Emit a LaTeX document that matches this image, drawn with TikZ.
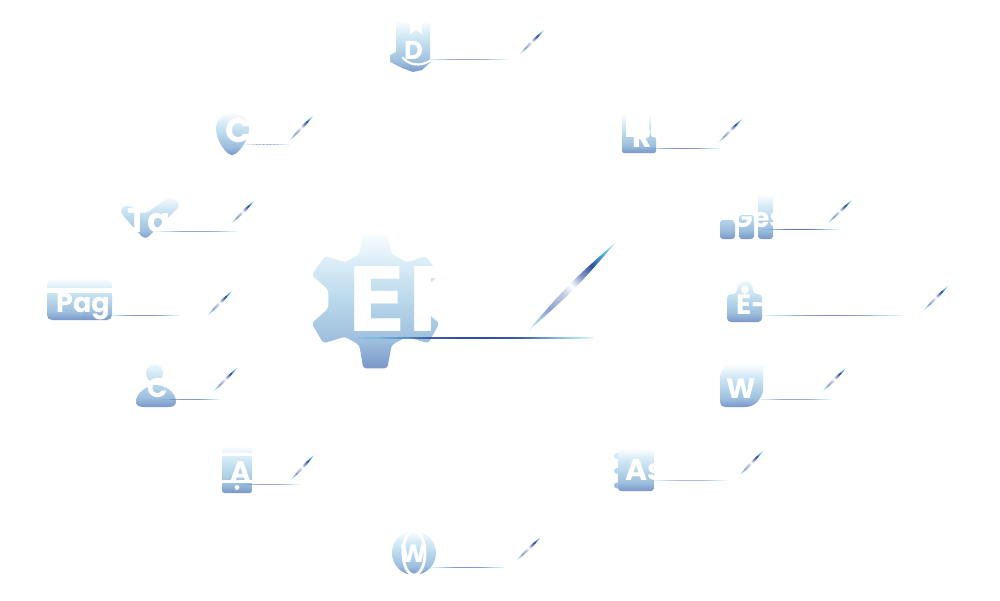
\documentclass[tikz,border=0pt]{standalone}
\usepackage{fontspec}
\usetikzlibrary{calc}
\newfontfamily\lblfont{Poppins}
\newfontfamily\erpfont{DejaVu Sans}
\definecolor{iconT}{HTML}{FAFDFF}
\definecolor{iconU}{HTML}{D4E9F5}
\definecolor{iconM}{HTML}{BAD8EB}
\definecolor{iconL}{HTML}{9DBEDD}
\definecolor{iconB}{HTML}{7A97C9}
\definecolor{ncyan}{HTML}{4DB8E0}
\definecolor{nlight}{HTML}{A9DDF0}
\definecolor{navy}{HTML}{2F4F9F}
\definecolor{peri}{HTML}{8E9FCC}
\pgfdeclareverticalshading{iconShade}{100bp}{color(0bp)=(iconB);color(25bp)=(iconB);color(35bp)=(iconL);color(50bp)=(iconM);color(62bp)=(iconU);color(75bp)=(iconT);color(100bp)=(iconT)}
\pgfdeclarehorizontalshading{leaderS}{100bp}{color(0bp)=(white);color(14.6bp)=(white);color(21.7bp)=(nlight);color(32.3bp)=(peri);color(44.3bp)=(peri!50);color(50bp)=(white);color(57bp)=(peri);color(65.6bp)=(navy);color(74.8bp)=(ncyan);color(85.4bp)=(white);color(100bp)=(white)}
\tikzset{
  iconfill/.style={shading=iconShade,draw=none},
  lbl/.style={text=white,inner sep=0pt,anchor=base west,font=\lblfont\bfseries\fontsize{#1}{#1}\selectfont},
  cutout/.style={fill=white,draw=none},
  cutline/.style={draw=white,line cap=round,line join=round},
  slen/.style={shading=leaderS,shading angle=45},
}
% name, x1, x2, y, half thickness, peak opacity
\newcommand{\hleader}[6]{%
  \coordinate (#1L) at (#2,#4);
  \coordinate (#1R) at (#3,#4);
  \foreach \i in {0,...,59}{%
    \pgfmathsetmacro{\ta}{\i/60}%
    \pgfmathsetmacro{\tb}{(\i+1)/60}%
    \pgfmathsetmacro{\tm}{(\i+.5)/60}%
    \pgfmathsetmacro{\op}{#6*sqrt(sin(180*\tm))}%
    \pgfmathsetmacro{\mixp}{min(100,max(0,(.42-abs(\tm-.5))/.22*100))}%
    \colorlet{segc}{navy!\mixp!ncyan}%
    \fill[segc,opacity=\op] ($(#1L)!\ta!(#1R)+(0,-#5)$) rectangle ($(#1L)!\tb!(#1R)+(0,#5)$);
  }%
}
% name, start x, y, end x, y, control offset
\newcommand{\slashlens}[6]{%
  \coordinate (#1A) at (#2,#3);
  \coordinate (#1B) at (#4,#5);
  \shade[slen] (#1A) .. controls ($(#1A)!.5!(#1B)+(#6,#6)$) .. (#1B) .. controls ($(#1A)!.5!(#1B)+(-#6,-#6)$) .. (#1A) -- cycle;
}
\begin{document}
\begin{tikzpicture}[x=1pt,y=-1pt]
\useasboundingbox (0,0) rectangle (1000,600);
% central gear
\shade[iconfill,rounded corners=3pt] (363.3,233.3) -- (387.3,233.3) -- (391.7,254.3) -- (406.7,262.3) -- (426,256) -- (439.3,275) -- (421.7,290) -- (421.7,308.3) -- (439.3,323.3) -- (428.3,343.3) -- (406.7,336.7) -- (391.7,345) -- (387.3,368.3) -- (363.3,368.3) -- (359.3,345) -- (345,336.7) -- (323.3,343.3) -- (311.7,323.3) -- (328.3,308.3) -- (328.3,290) -- (311.7,275) -- (325,256) -- (345,262.3) -- (359.3,254.3) -- cycle;
\node[text=white,inner sep=0pt,anchor=base west,font=\erpfont\bfseries\fontsize{89}{89}\selectfont] (erp) at (346,331) {ERP};
% document in hand
\shade[iconfill] (396,22) -- (430,22) -- (430,58) -- (431,62) -- (422,70) -- (413,72) -- (402,68) -- (390,62) -- (390,55) -- (396,52) -- cycle;
\fill[cutout] (410,20) -- (422,20) -- (422,34) -- (416,30) -- (410,34) -- cycle;
\draw[cutline,line width=2.2pt] (403,58) .. controls (408,64) and (420,68) .. (431,60);
\node[lbl=26] (doc) at (404,59) {D};
% pin
\shade[iconfill] (216,129) .. controls (216,120) and (223,113) .. (232,113) .. controls (241,113) and (249,120) .. (249,129) .. controls (249,140) and (238,155) .. (232,155) .. controls (226,155) and (216,140) .. (216,129) -- cycle;
\node[lbl=34] (pin) at (225,142) {C};
% form
\shade[iconfill,rounded corners=2pt] (622,115) -- (651,115) -- (651,137) -- (656,137) -- (656,153) -- (622,153) -- cycle;
\fill[cutout] (626,112) rectangle (649,137);
\node[lbl=30] (form) at (632,147) {R};
% check
\shade[iconfill,rounded corners=5pt] (119,211) -- (126,204) -- (145,214) -- (171,196) -- (181,205) -- (145,240) -- cycle;
\node[lbl=34] (check) at (127,232) {Ta};
% bars
\shade[iconfill,rounded corners=3pt] (720,220) -- (735,220) -- (735,239) -- (720,239) -- cycle (739,215) -- (754,215) -- (754,239) -- (739,239) -- cycle (758,195) -- (773,195) -- (773,239) -- (758,239) -- cycle;
\node[lbl=27] (bars) at (732,227) {Ges};
% page
\shade[iconfill,rounded corners=5pt] (47,279) -- (112,279) -- (112,320) -- (47,320) -- cycle;
\fill[cutout] (45,288) rectangle (114,293);
\node[lbl=27] (page) at (56,312) {Pag};
% bag
\shade[iconfill,even odd rule,rounded corners=4pt] (727,294) -- (737,294) .. controls (737,278) and (753,278) .. (753,294) -- (762,294) -- (762,322) -- (727,322) -- cycle (741,294) .. controls (741,284) and (749,284) .. (749,294) -- cycle;
\node[lbl=28] (bag) at (736,314) {E-};
% person
\shade[iconfill] (146,373) .. controls (146,361) and (163,361) .. (163,373) .. controls (163,385) and (146,385) .. (146,373) -- cycle (136,402) .. controls (136,392) and (148,385) .. (156,385) .. controls (165,385) and (176,392) .. (176,402) .. controls (176,406) and (172,407) .. (168,407) -- (144,407) .. controls (140,407) and (136,406) .. (136,402) -- cycle;
\node[lbl=27] (person) at (147,397) {C};
% speech square
\shade[iconfill] (732,365) -- (763,365) -- (763,392) .. controls (760,400) and (755,407) .. (745,407) -- (725,407) .. controls (722,407) and (720,405) .. (720,402) -- (720,377) .. controls (720,370) and (725,365) .. (732,365) -- cycle;
\node[lbl=28] (word) at (726,398) {W};
% phone
\shade[iconfill,rounded corners=2.5pt] (222,447) -- (252,447) -- (252,493) -- (222,493) -- cycle;
\fill[cutout] (220,453) rectangle (254,456);
\fill[cutout] (220,480) rectangle (254,483);
\fill[cutout] (237,487.5) circle (2.4);
\node[lbl=28] (phone) at (230,481) {A};
% notebook
\fill[iconU] (617,456) circle (3);
\fill[iconM] (617,471) circle (3);
\fill[iconL] (617,485.5) circle (3);
\shade[iconfill,rounded corners=3pt] (618,449) -- (654,449) -- (654,491) -- (618,491) -- cycle;
\node[lbl=30] (book) at (625,480) {As};
% globe
\shade[iconfill] (414,553) circle (22);
\draw[cutline,line width=2.8pt] (414,553) ellipse (11 and 22);
\node[lbl=25] (globe) at (400,562) {W};
% leaders
\hleader{a}{358}{593}{337.6}{1.05}{1}\slashlens{a}{526}{333}{618}{240}{3}
\hleader{b}{425}{508}{59.2}{.7}{.5}\slashlens{b}{519}{55}{545}{29}{1.3}
\hleader{c}{243}{290}{144.7}{.7}{.3}\slashlens{c}{289}{141}{314}{115}{1.3}
\hleader{d}{645}{720}{148.2}{.7}{.6}\slashlens{d}{718}{143}{743}{118}{1.3}
\hleader{e}{155}{238}{231.2}{.7}{.5}\slashlens{e}{231}{224}{255}{200}{1.3}
\hleader{f}{760}{838}{229.2}{.7}{.75}\slashlens{f}{827}{224}{853}{199}{1.3}
\hleader{g}{108}{180}{315.7}{.7}{.6}\slashlens{g}{207}{316}{233}{290}{1.3}
\hleader{h}{762}{903}{315.7}{.7}{.6}\slashlens{h}{923}{311}{949}{285}{1.3}
\hleader{i}{160}{220}{399.2}{.7}{.6}\slashlens{i}{213}{392}{238}{367}{1.3}
\hleader{j}{758}{832}{399.2}{.7}{.5}\slashlens{j}{822}{392}{847}{367}{1.3}
\hleader{k}{238}{300}{484.2}{.7}{.5}\slashlens{k}{290}{481}{315}{454}{1.3}
\hleader{l}{652}{728}{480.2}{.7}{.4}\slashlens{l}{739}{476}{764}{450}{1.3}
\hleader{m}{430}{505}{567.2}{.7}{.6}\slashlens{m}{516}{561}{542}{536}{1.3}
\end{tikzpicture}
\end{document}
